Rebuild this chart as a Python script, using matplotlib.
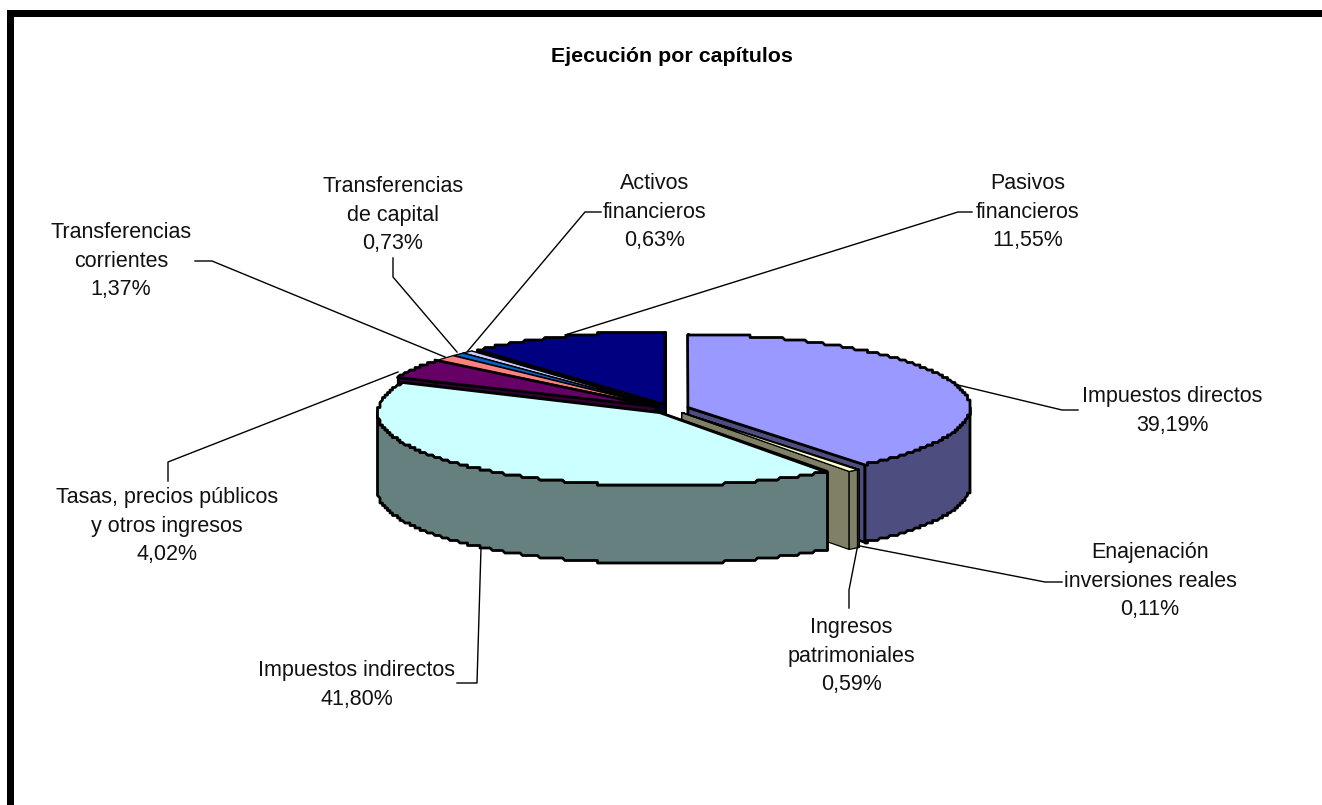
import numpy as np
import matplotlib
matplotlib.use("Agg")
import matplotlib.pyplot as plt
from matplotlib.patches import Rectangle

plt.rcParams['font.family'] = ['Liberation Sans', 'DejaVu Sans']

# Data, clockwise from 12 o'clock
names = ["Impuestos directos", "Enajenación\ninversiones reales", "Ingresos\npatrimoniales",
         "Impuestos indirectos", "Tasas, precios públicos\ny otros ingresos",
         "Transferencias\ncorrientes", "Transferencias\nde capital",
         "Activos\nfinancieros", "Pasivos\nfinancieros"]
values = [39.19, 0.11, 0.59, 41.80, 4.02, 1.37, 0.73, 0.63, 11.55]
top_colors = ["#9999FF", "#FFFFCC", "#FFFFCC", "#CCFFFF", "#660066",
              "#FF8080", "#0066CC", "#CCCCFF", "#000080"]
side_colors = ["#4D4D80", "#808066", "#808066", "#668080", "#330033",
               "#804040", "#003366", "#666680", "#000040"]

# Pie geometry in pixels
CX, CY = 671, 409
RX, RY = 282, 73
DEPTH = 78
EXPLODE = 0.0635
LW = 2.0
LW_THIN = 0.9  # thin slices would vanish under the full outline
STEP = 2.5  # the rim of the reference is stepped
BACK_TO_FRONT = [8, 7, 6, 5, 4, 0, 1, 2, 3]

# Label centre and the points of each leader line (rim, corner, end)
label_pos = [(1172, 411), (1150, 581), (851, 656), (357, 685), (167, 526),
             (121, 261), (393, 215), (655, 212), (1028, 212)]
leader_pts = [[(958, 385), (1062, 410), (1078, 410)],
              [(860, 546), (1045, 582), (1062, 582)],
              [(857, 549), (849, 590), (849, 608)],
              [(481, 548), (477, 683), (457, 683)],
              [(398, 372), (168, 462), (168, 481)],
              [(445, 357), (212, 261), (195, 261)],
              [(457, 352), (393, 277), (393, 258)],
              [(467, 352), (585, 212), (601, 212)],
              [(565, 335), (958, 212), (972, 212)]]

fig = plt.figure(figsize=(13.22, 8.05), dpi=100)
ax = fig.add_axes([0, 0, 1, 1])
ax.set_xlim(0, 1322)
ax.set_ylim(805, 0)
ax.axis("off")

# Frame: only top and left are in the picture
ax.add_patch(Rectangle((7, 10), 7, 795, color="black", lw=0))
ax.add_patch(Rectangle((7, 10), 1315, 7, color="black", lw=0))


def point(ang, ox, oy):
    return ox + RX * np.sin(ang), oy - RY * np.cos(ang)


def stepped(v):
    return np.round(np.asarray(v) / STEP) * STEP


def fill(xs, ys, color, z, lw):
    ax.fill(xs, ys, facecolor=color, edgecolor="black", linewidth=lw, joinstyle="round", zorder=z)


edges = np.cumsum([0] + values) / sum(values) * 2 * np.pi
z = 5
for i in BACK_TO_FRONT:
    a0, a1 = edges[i], edges[i + 1]
    mid = (a0 + a1) / 2
    lw = LW if values[i] > 2 else LW_THIN
    ox, oy = point(mid, CX, CY)
    ox = CX + EXPLODE * (ox - CX)
    oy = CY + EXPLODE * (oy - CY)
    angs = np.linspace(a0, a1, max(3, int((a1 - a0) * 120)))
    ex, ey = point(angs, ox, oy)
    if values[i] > 2:
        ex, ey = stepped(ex), stepped(ey)

    # cut faces
    for a in (a0, a1):
        x1, y1 = point(a, ox, oy)
        fill([ox, x1, x1, ox], [oy, y1, y1 + DEPTH, oy + DEPTH], side_colors[i], z, lw)
        z += 1
    # outer wall, only the part turned to the viewer
    keep = np.cos(angs) < 0
    if keep.sum() > 1:
        fx, fy = ex[keep], ey[keep]
        fill(np.r_[fx, fx[::-1]], np.r_[fy, fy[::-1] + DEPTH], side_colors[i], z, lw)
        z += 1
    # top
    fill(np.r_[ox, ex], np.r_[oy, ey], top_colors[i], z, lw)
    z += 1

    # leader line goes under the pie
    xs, ys = zip(*leader_pts[i])
    ax.plot(xs, ys, color="black", lw=1.0, zorder=2)

    text = names[i] + "\n" + f"{values[i]:.2f}".replace(".", ",") + "%"
    ax.text(label_pos[i][0], label_pos[i][1], text, ha="center", va="center", fontsize=15.5,
            linespacing=1.47, color="#111111", zorder=100)

ax.text(672, 56, "Ejecución por capítulos", ha="center", va="center", fontsize=15.4,
        fontweight="bold", color="black")

fig.savefig("out.png", dpi=100)
